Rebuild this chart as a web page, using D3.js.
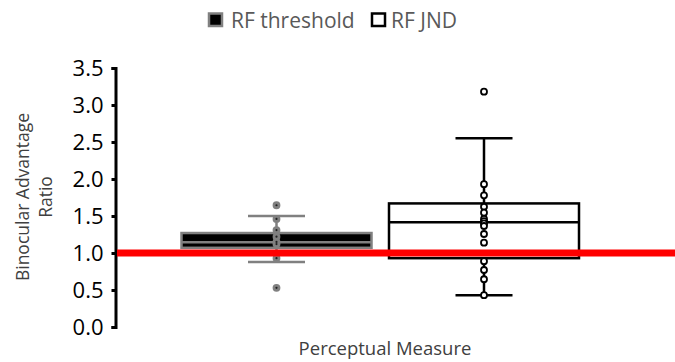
<!DOCTYPE html>
<html><head><meta charset="utf-8">
<script src="https://cdn.jsdelivr.net/npm/d3@7"></script>
<style>body{margin:0;background:#fff}svg{display:block}text{font-family:"Open Sans",sans-serif}</style>
</head><body><svg id="c" width="675" height="362"></svg>
<script>
const categories = ["RF threshold", "RF JND"];
const boxQ1 = [1.07, 0.93];
const boxMedian = [1.145, 1.415];
const boxQ3 = [1.27, 1.67];
const whiskerLow = [0.88, 0.43];
const whiskerHigh = [1.50, 2.55];
const pointsThreshold = [1.645, 1.46, 1.31, 1.22, 1.15, 1.12, 0.93, 0.53];
const pointsJND = [3.18, 1.93, 1.78, 1.625, 1.545, 1.46, 1.43, 1.40, 1.365, 1.257, 1.14, 0.89, 0.77, 0.645, 0.43];
const points = [pointsThreshold, pointsJND];
const yTicks = [0, 0.5, 1.0, 1.5, 2.0, 2.5, 3.0, 3.5];
const referenceValue = 1.0;

const svg = d3.select("#c");
const y = d3.scaleLinear().domain([0, 3.5]).range([327, 68]);
const x = d3.scalePoint().domain(categories).range([276.5, 484]);
const boxW = 190, capW = 57;

const styles = [
  {fill: "#000", stroke: "#808080", ptFill: "#808080", ptStroke: "#808080", dot: "#222"},
  {fill: "#fff", stroke: "#000", ptFill: "#fff", ptStroke: "#000", dot: null}
];

// axis
const ax = svg.append("g").attr("transform", "translate(115.5,0)")
  .call(d3.axisLeft(y).tickValues(yTicks).tickFormat(d3.format(".1f")).tickSize(4).tickSizeOuter(4).tickPadding(8));
ax.select(".domain").attr("stroke", "#000").attr("stroke-width", 3);
ax.selectAll(".tick line").attr("stroke", "#000").attr("stroke-width", 3);
ax.selectAll(".tick text").attr("fill", "#000").style("font-size", "22px").style("font-family", "'Open Sans',sans-serif");

categories.forEach((c, i) => {
  const cx = x(c), s = styles[i];
  const g = svg.append("g");
  g.append("line").attr("x1", cx).attr("x2", cx).attr("y1", y(whiskerHigh[i])).attr("y2", y(boxQ3[i]))
    .attr("stroke", s.stroke).attr("stroke-width", 2.5);
  g.append("line").attr("x1", cx).attr("x2", cx).attr("y1", y(boxQ1[i])).attr("y2", y(whiskerLow[i]))
    .attr("stroke", s.stroke).attr("stroke-width", 2.5);
  [whiskerHigh[i], whiskerLow[i]].forEach(v => {
    g.append("line").attr("x1", cx - capW / 2).attr("x2", cx + capW / 2).attr("y1", y(v)).attr("y2", y(v))
      .attr("stroke", s.stroke).attr("stroke-width", 2.5);
  });
  g.append("rect").attr("x", cx - boxW / 2).attr("width", boxW)
    .attr("y", y(boxQ3[i])).attr("height", y(boxQ1[i]) - y(boxQ3[i]))
    .attr("fill", s.fill).attr("stroke", s.stroke).attr("stroke-width", 2.5);
  g.append("line").attr("x1", cx - boxW / 2).attr("x2", cx + boxW / 2)
    .attr("y1", y(boxMedian[i])).attr("y2", y(boxMedian[i]))
    .attr("stroke", s.stroke).attr("stroke-width", 2.5);
  g.selectAll("circle.pt").data(points[i]).join("circle").attr("class", "pt")
    .attr("cx", cx).attr("cy", d => y(d)).attr("r", 3)
    .attr("fill", s.ptFill).attr("stroke", s.ptStroke).attr("stroke-width", 1.8);
  if (s.dot) {
    g.selectAll("circle.dt").data(points[i]).join("circle").attr("class", "dt")
      .attr("cx", cx).attr("cy", d => y(d)).attr("r", 1.1).attr("fill", s.dot);
  }
});

// reference line
svg.append("line").attr("x1", 117).attr("x2", 675).attr("y1", y(referenceValue)).attr("y2", y(referenceValue))
  .attr("stroke", "#ff0000").attr("stroke-width", 7);

// legend
const leg = [{x: 209, fill: "#000", stroke: "#808080", tx: 231}, {x: 372, fill: "#fff", stroke: "#000", tx: 391}];
categories.forEach((c, i) => {
  svg.append("rect").attr("x", leg[i].x).attr("y", 13.5).attr("width", 13).attr("height", 12.5)
    .attr("fill", leg[i].fill).attr("stroke", leg[i].stroke).attr("stroke-width", 2.5);
  svg.append("text").attr("x", leg[i].tx).attr("y", 28).attr("fill", "#595959")
    .style("font-size", "21px").text(c);
});

// axis titles
const yt = svg.append("text").attr("transform", "translate(0,197) rotate(-90)")
  .attr("text-anchor", "middle").attr("fill", "#404040").style("font-size", "17.5px");
yt.append("tspan").attr("x", 0).attr("y", 29).text("Binocular Advantage");
yt.append("tspan").attr("x", 0).attr("y", 52).text("Ratio");
svg.append("text").attr("x", 385).attr("y", 355).attr("text-anchor", "middle").attr("fill", "#404040")
  .style("font-size", "18.5px").text("Perceptual Measure");
</script></body></html>
